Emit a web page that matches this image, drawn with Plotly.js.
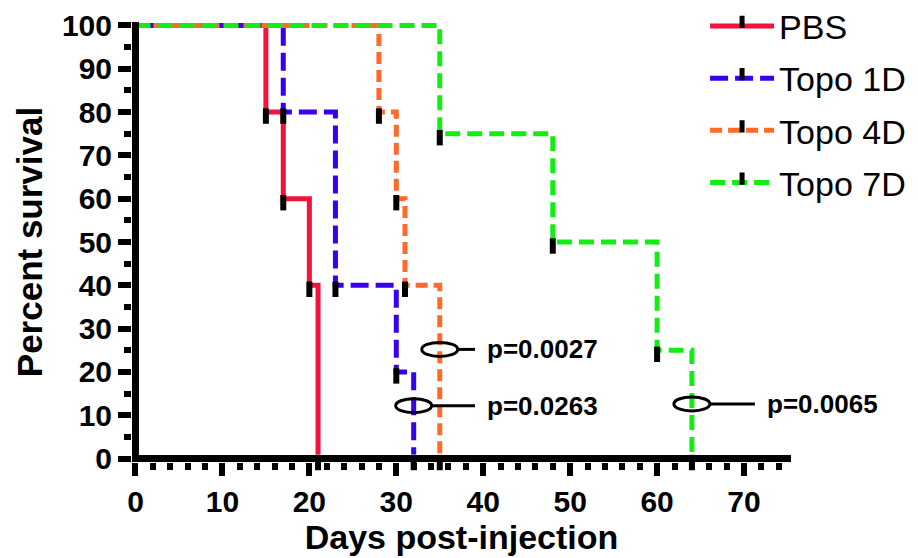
<!DOCTYPE html>
<html>
<head>
<meta charset="utf-8">
<script src="https://cdn.plot.ly/plotly-3.0.1.min.js"></script>
<style>
  html, body { margin: 0; padding: 0; background: #ffffff; }
  #chart { width: 918px; height: 558px; }
</style>
</head>
<body>
<div id="chart"></div>
<script>
// ---- Data (Kaplan-Meier steps) ----
const seriesNames = ['PBS', 'Topo 1D', 'Topo 4D', 'Topo 7D'];
const pbsDays   = [0, 15, 17, 20, 21];
const pbsSurv   = [100, 80, 60, 40, 0];
const topo1Days = [0, 17, 23, 30, 32];
const topo1Surv = [100, 80, 40, 20, 0];
const topo4Days = [0, 28, 30, 31, 35];
const topo4Surv = [100, 80, 60, 40, 0];
const topo7Days = [0, 35, 48, 60, 64];
const topo7Surv = [100, 75, 50, 25, 0];

// p-value labels and where their ellipses sit (day, percent)
const pLabels = ['p=0.0027', 'p=0.0263', 'p=0.0065'];
const pDay    = [35, 32, 64];
const pPct    = [25.2, 12.2, 12.6];
const pTextDay = [40.2, 40.2, 72.4];

const xTicks = [0, 10, 20, 30, 40, 50, 60, 70];
const yTicks = [0, 10, 20, 30, 40, 50, 60, 70, 80, 90, 100];

// ---- Styling ----
const colors = ['#F2123C', '#3A00EE', '#FF6A2A', '#12EE12'];
const dashes = ['solid', '18px,7px', '12px,6px', '15px,7px'];
const FONT = 'Liberation Sans, Arial, sans-serif';
const XR = [-0.4, 75.4];
const YR = [-0.8, 100.8];

const allDays = [pbsDays, topo1Days, topo4Days, topo7Days];
const allSurv = [pbsSurv, topo1Surv, topo4Surv, topo7Surv];

const traces = seriesNames.map((name, k) => ({
  type: 'scatter',
  mode: 'lines+markers',
  name: name,
  legendgroup: 'g' + k,
  x: allDays[k],
  y: allSurv[k],
  line: { shape: 'hv', color: colors[k], width: 5, dash: dashes[k] },
  marker: {
    symbol: 'line-ns',
    size: allDays[k].map((d, i) => (i === 0 ? 0 : 11)),
    color: '#000000',
    opacity: 1,
    standoff: 4,
    line: { color: '#000000', width: 6 }
  },
  cliponaxis: false,
  hoverinfo: 'skip'
}));

const shapes = [
  // axis lines centred on the data zero
  { type: 'line', xref: 'x', yref: 'y', x0: XR[0], x1: XR[1], y0: 0, y1: 0,
    line: { color: '#000', width: 7 }, layer: 'above' },
  { type: 'line', xref: 'x', yref: 'y', x0: 0, x1: 0, y0: YR[0], y1: YR[1],
    line: { color: '#000', width: 7 }, layer: 'above' }
];
const annotations = [];
const dayPerPx = (XR[1] - XR[0]) / 658.7;
const pctPerPx = (YR[1] - YR[0]) / 440.4;
pLabels.forEach((lab, i) => {
  const hw = 18 * dayPerPx, hh = 7 * pctPerPx;
  shapes.push({ type: 'circle', xref: 'x', yref: 'y',
    x0: pDay[i] - hw, x1: pDay[i] + hw, y0: pPct[i] - hh, y1: pPct[i] + hh,
    line: { color: '#000', width: 3 }, layer: 'above' });
  shapes.push({ type: 'line', xref: 'x', yref: 'y',
    x0: pDay[i] + hw, x1: pTextDay[i] - 10 * dayPerPx, y0: pPct[i], y1: pPct[i],
    line: { color: '#000', width: 3 }, layer: 'above' });
  annotations.push({ xref: 'x', yref: 'y', x: pTextDay[i], y: pPct[i],
    xanchor: 'left', yanchor: 'middle', showarrow: false, text: lab,
    font: { family: FONT, size: 26, weight: 'bold', color: '#000' } });
});

const layout = {
  width: 918, height: 558,
  paper_bgcolor: '#ffffff', plot_bgcolor: '#ffffff',
  margin: { l: 132.2, r: 127.1, t: 21.8, b: 95.8, autoexpand: false },
  showlegend: true,
  legend: {
    x: 0.8696, xanchor: 'left', y: 1.056, yanchor: 'top',
    font: { family: FONT, size: 34, color: '#000' },
    bgcolor: 'rgba(0,0,0,0)', borderwidth: 0,
    itemwidth: 64, tracegroupgap: 5
  },
  xaxis: {
    range: XR, showgrid: false, zeroline: false, showline: false, automargin: false,
    tickmode: 'array', tickvals: xTicks, ticktext: xTicks.map(String),
    ticks: 'outside', ticklen: 13, tickwidth: 6, tickcolor: '#000',
    minor: { dtick: 2, tick0: 0, ticks: 'outside', ticklen: 7, tickwidth: 6, tickcolor: '#000' },
    tickfont: { family: FONT, size: 30, weight: 'bold', color: '#000' },
    title: { text: 'Days post-injection', standoff: 8,
      font: { family: FONT, size: 34, weight: 'bold', color: '#000' } }
  },
  yaxis: {
    range: YR, showgrid: false, zeroline: false, showline: false, automargin: false,
    tickmode: 'array', tickvals: yTicks, ticktext: yTicks.map(String),
    ticks: 'outside', ticklen: 13, tickwidth: 6, tickcolor: '#000',
    minor: { dtick: 5, tick0: 0, ticks: 'outside', ticklen: 7, tickwidth: 6, tickcolor: '#000' },
    tickfont: { family: FONT, size: 30, weight: 'bold', color: '#000' },
    title: { text: 'Percent survival', standoff: 8,
      font: { family: FONT, size: 35, weight: 'bold', color: '#000' } }
  },
  shapes: shapes,
  annotations: annotations
};

Plotly.newPlot('chart', traces, layout, { displayModeBar: false, staticPlot: true });
</script>
</body>
</html>
